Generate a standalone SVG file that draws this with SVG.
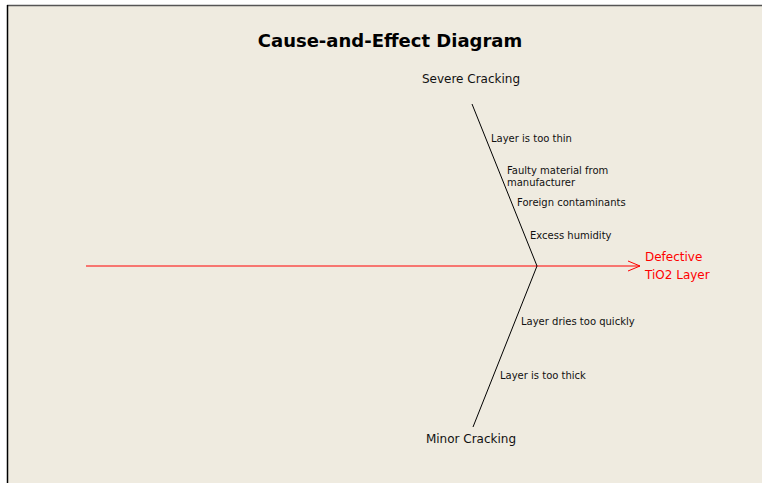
<svg xmlns="http://www.w3.org/2000/svg" width="762" height="483" viewBox="0 0 762 483">
  <style>
    .bg { fill: #efebe0; }
    .title { font-family: "DejaVu Sans", sans-serif; font-weight: bold; font-size: 18px; fill: #000; }
    .cat { font-family: "DejaVu Sans", sans-serif; font-size: 12px; fill: #111; }
    .cause { font-family: "DejaVu Sans", sans-serif; font-size: 10px; fill: #111; }
    .effect { font-family: "DejaVu Sans", sans-serif; font-size: 12px; fill: #ff0000; }
    .bone { stroke: #000; stroke-width: 1; fill: none; }
    .spine { stroke: #ff0000; stroke-width: 1; fill: none; }
  </style>
  <defs>
    <marker id="chevron" markerWidth="14" markerHeight="12" refX="13" refY="6" orient="auto" markerUnits="userSpaceOnUse">
      <path d="M1,1 L13,6 L1,11" fill="none" stroke="#ff0000" stroke-width="1"/>
    </marker>
  </defs>

  <!-- page and frame -->
  <rect x="0" y="0" width="762" height="483" fill="#ffffff"/>
  <rect class="bg" x="7" y="5" width="755" height="478"/>
  <line x1="7" y1="5.5" x2="762" y2="5.5" stroke="#555" stroke-width="1.5"/>
  <line x1="7.5" y1="5" x2="7.5" y2="483" stroke="#000" stroke-width="1.5"/>

  <text class="title" x="390" y="47" text-anchor="middle">Cause-and-Effect Diagram</text>

  <g id="connectors">
    <line class="spine" x1="86" y1="266" x2="640" y2="266" marker-end="url(#chevron)"/>
    <line class="bone" x1="472" y1="104" x2="537" y2="266"/>
    <line class="bone" x1="537" y1="266" x2="473" y2="427"/>
  </g>

  <g id="effect">
    <text class="effect" x="645" y="261">Defective</text>
    <text class="effect" x="645" y="279">TiO2 Layer</text>
  </g>

  <g id="severe-cracking">
    <text class="cat" x="471" y="83" text-anchor="middle">Severe Cracking</text>
    <text class="cause" x="491" y="142">Layer is too thin</text>
    <text class="cause" x="507" y="174">Faulty material from</text>
    <text class="cause" x="507" y="186">manufacturer</text>
    <text class="cause" x="517" y="206">Foreign contaminants</text>
    <text class="cause" x="530" y="239">Excess humidity</text>
  </g>

  <g id="minor-cracking">
    <text class="cat" x="471" y="443" text-anchor="middle">Minor Cracking</text>
    <text class="cause" x="521" y="325">Layer dries too quickly</text>
    <text class="cause" x="500" y="379">Layer is too thick</text>
  </g>
</svg>
